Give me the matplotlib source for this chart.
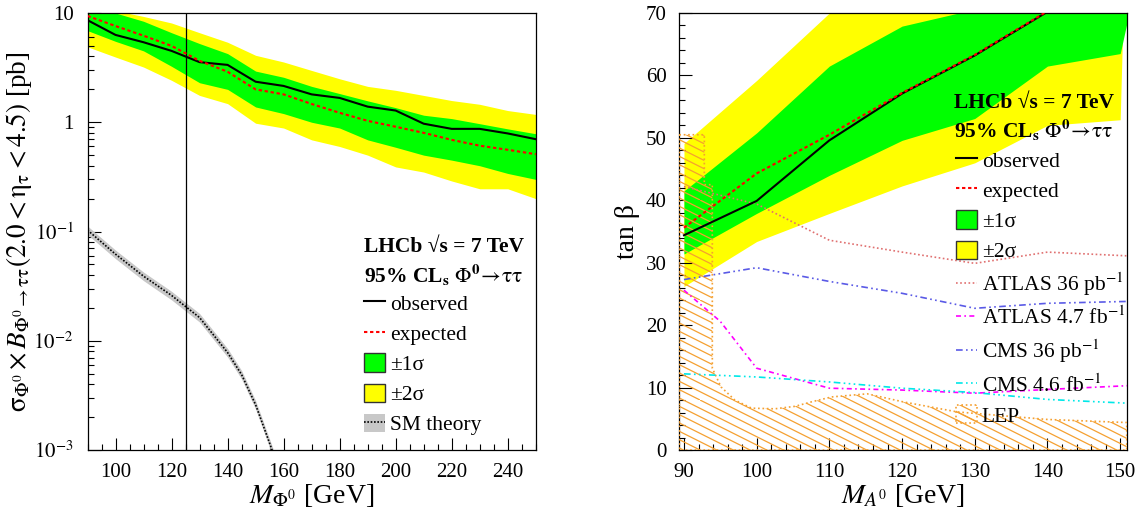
import numpy as np
import matplotlib
matplotlib.use("Agg")
import matplotlib.pyplot as plt
from matplotlib.patches import Patch
from matplotlib.lines import Line2D
from matplotlib.ticker import MultipleLocator, LogLocator, NullFormatter
import matplotlib.hatch as mhatch
from matplotlib.path import Path

# ---------------- data: left panel (cross-section limit) ----------------
mass_l = [90, 100, 110, 120, 130, 140, 150, 160, 170, 180, 190, 200, 210, 220, 230, 240, 250]
obs_l = [8.6, 6.3, 5.4, 4.5, 3.55, 3.35, 2.35, 2.15, 1.80, 1.67, 1.39, 1.28, 0.97, 0.87, 0.87, 0.79, 0.70]
exp_l = [9.4, 7.6, 6.2, 5.0, 3.65, 2.9, 2.0, 1.8, 1.47, 1.22, 1.03, 0.91, 0.80, 0.69, 0.61, 0.56, 0.51]
g_lo_l = [6.9, 5.5, 4.5, 3.25, 2.3, 2.0, 1.38, 1.2, 1.0, 0.885, 0.69, 0.59, 0.50, 0.45, 0.40, 0.34, 0.30]
g_hi_l = [11.5, 10.0, 8.4, 6.6, 5.25, 4.25, 2.94, 2.58, 2.13, 1.83, 1.57, 1.36, 1.16, 1.08, 0.97, 0.87, 0.785]
y_lo_l = [4.9, 3.95, 3.2, 2.42, 1.76, 1.48, 0.98, 0.885, 0.69, 0.60, 0.50, 0.39, 0.35, 0.29, 0.246, 0.246, 0.20]
y_hi_l = [13.0, 10.5, 9.3, 8.1, 6.6, 5.4, 4.1, 3.56, 2.98, 2.5, 2.13, 1.96, 1.76, 1.58, 1.46, 1.28, 1.18]

mass_sm = [90, 100, 110, 120, 130, 140, 145, 150, 153, 156, 158]
sm_xs = [0.103, 0.062, 0.039, 0.026, 0.0163, 0.0078, 0.0049, 0.0026, 0.0016, 0.00098, 0.0007]
sm_rel_unc = 0.09
higgs_mass = 125

ytick_vals_l = [1e-3, 1e-2, 1e-1, 1, 10]
ytick_labs_l = [r"$10^{-3}$", r"$10^{-2}$", r"$10^{-1}$", "1", "10"]

# ---------------- data: right panel (tan beta limit) ----------------
mass_r = [90, 100, 110, 120, 130, 140, 150, 151]
obs_r = [34.4, 39.9, 49.6, 57.1, 63.2, 70.2, 77.0, 78.0]
exp_r = [35.6, 44.3, 50.5, 57.2, 63.3, 70.3, 77.0, 78.0]
g_lo_r = [31.4, 37.9, 44.0, 49.6, 53.1, 61.5, 63.5, 68.8]
g_hi_r = [41.5, 50.8, 61.5, 67.9, 70.6, 78.0, 85.0, 86.0]
y_lo_r = [26.2, 33.4, 37.9, 42.3, 46.0, 52.0, 52.9, 95.0]
y_hi_r = [49.1, 59.2, 70.0, 78.0, 85.0, 90.0, 95.0, 96.0]

mass_ext = [90, 100, 110, 120, 130, 140, 151]
atlas36 = [42.2, 39.4, 33.6, 31.7, 29.9, 31.7, 31.1]
cms36 = [27.3, 29.2, 27.0, 25.1, 22.7, 23.5, 23.8]
cms46 = [12.2, 11.7, 10.9, 9.9, 9.2, 8.1, 7.5]
mass_atlas47 = [90, 95, 100, 110, 120, 130, 140, 151]
atlas47 = [25.6, 20.6, 13.1, 9.9, 9.6, 9.1, 9.7, 10.3]

lep_x = [89.36, 92.8, 92.8, 93.9, 93.9, 95.1, 97.0, 99.3, 102.5, 105.3, 107.5, 110.3, 115.2, 120.2, 127.6, 139.9, 150.9]
lep_y = [50.5, 50.5, 42.5, 42.5, 13.1, 10.1, 8.0, 6.7, 6.6, 7.0, 7.7, 8.5, 9.0, 7.7, 6.1, 4.9, 4.4]

# ---------------- style ----------------
plt.rcParams['font.family'] = ['Liberation Serif', 'DejaVu Serif']
plt.rcParams['mathtext.fontset'] = 'stix'
plt.rcParams['hatch.linewidth'] = 0.9

YELLOW = '#ffff00'
GREEN = '#00ff00'
ORANGE = '#f5a030'
EXP_LS = (0, (1.6, 1.3))


class ShallowSouthEast(mhatch.HatchPatternBase):
    """ROOT-like shallow back-slash hatch (slope -1/2)."""
    N = 12

    def __init__(self, hatch, density):
        on = hatch.count('\\') > 0
        self.ks = np.arange(1, int(1.5 * self.N)) if on else np.arange(0)
        self.num_vertices = 2 * len(self.ks)

    def set_vertices_and_codes(self, vertices, codes):
        c = self.ks / self.N
        s = 0.5
        x0 = np.clip((c - 1) / s, 0, 1)
        x1 = np.clip(c / s, 0, 1)
        vertices[0::2, 0] = x0
        vertices[0::2, 1] = c - s * x0
        vertices[1::2, 0] = x1
        vertices[1::2, 1] = c - s * x1
        codes[0::2] = Path.MOVETO
        codes[1::2] = Path.LINETO


try:
    _i = mhatch._hatch_types.index(mhatch.SouthEastHatch)
    mhatch._hatch_types[_i] = ShallowSouthEast
except Exception:
    pass

fig = plt.figure(figsize=(11.44, 5.14), dpi=100)
axL = fig.add_axes([0.0765, 0.1245, 0.3918, 0.8502])
axR = fig.add_axes([0.5938, 0.1245, 0.3911, 0.8502])


def style_axes(ax, ypad):
    for sp in ax.spines.values():
        sp.set_linewidth(0.9)
    ax.tick_params(which='both', direction='in', top=False, right=False,
                   width=0.8, labelsize=15)
    ax.tick_params(which='major', length=9)
    ax.tick_params(which='minor', length=4.5)
    ax.tick_params(axis='x', which='both', pad=9)
    ax.tick_params(axis='y', which='both', pad=ypad)


# ---------------- left panel ----------------
axL.fill_between(mass_l, y_lo_l, y_hi_l, color=YELLOW, lw=0, zorder=1)
axL.fill_between(mass_l, g_lo_l, g_hi_l, color=GREEN, lw=0, zorder=2)
sm_arr = np.array(sm_xs)
axL.fill_between(mass_sm, sm_arr * (1 - sm_rel_unc), sm_arr * (1 + sm_rel_unc),
                 color='#c8c8c8', lw=0, zorder=2)
axL.plot(mass_sm, sm_xs, color='k', ls=(0, (1, 1)), lw=1.2, zorder=3)
axL.axvline(higgs_mass, color='k', lw=0.9, zorder=3)
axL.plot(mass_l, obs_l, color='k', lw=1.5, zorder=4)
axL.plot(mass_l, exp_l, color='red', ls=EXP_LS, lw=1.5, zorder=5)

axL.set_yscale('log')
axL.set_xlim(90, 250)
axL.set_ylim(1e-3, 10)
axL.xaxis.set_major_locator(MultipleLocator(20))
axL.xaxis.set_minor_locator(MultipleLocator(5))
axL.set_yticks(ytick_vals_l, ytick_labs_l)
axL.yaxis.set_minor_locator(LogLocator(base=10, subs=np.arange(2, 10)))
axL.yaxis.set_minor_formatter(NullFormatter())
style_axes(axL, 10)

axL.set_xlabel(r"$M_{\Phi^0}$ [GeV]", fontsize=20, va='center')
axL.xaxis.set_label_coords(0.5, -0.103)
axL.set_ylabel(r"$\mathrm{\sigma}_{\Phi^0}\times B_{\Phi^0\rightarrow\mathrm{\tau\tau}}"
               r"(2.0 < \mathrm{\eta}_{\mathrm{\tau}} < 4.5)$ [pb]", fontsize=19.5, va='center')
axL.yaxis.set_label_coords(-0.152, 0.5)

axL.text(0.616, 0.4645, "LHCb √s = 7 TeV", transform=axL.transAxes,
         fontsize=15.5, fontweight='bold', va='center', ha='left')
axL.text(0.616, 0.4005, r"95% CL$_{\mathbf{s}}$ $\Phi^{\mathbf{0}}\!\rightarrow\!\mathrm{\tau\tau}$",
         transform=axL.transAxes, fontsize=15.5, fontweight='bold', va='center', ha='left')

hL = [Line2D([], [], color='k', lw=1.5),
      Line2D([], [], color='red', ls=EXP_LS, lw=1.5),
      Patch(facecolor=GREEN, edgecolor='#333333', lw=1),
      Patch(facecolor=YELLOW, edgecolor='#333333', lw=1),
      (Patch(facecolor='#c8c8c8', edgecolor='none'),
       Line2D([], [], color='k', ls=(0, (1, 1)), lw=1.2))]
lL = ['observed', 'expected', '±1σ', '±2σ', 'SM theory']
axL.legend(hL, lL, loc='upper left', bbox_to_anchor=(0.616, 0.359), frameon=False,
           fontsize=15.5, handlelength=0.98, handleheight=0.93, handletextpad=0.23,
           labelspacing=0.4, borderpad=0, borderaxespad=0)

# ---------------- right panel ----------------
axR.fill_between(mass_r, y_lo_r, y_hi_r, color=YELLOW, lw=0, zorder=1)
axR.fill_between(mass_r, g_lo_r, g_hi_r, color=GREEN, lw=0, zorder=2)
axR.fill(np.r_[lep_x, lep_x[-1], lep_x[0]], np.r_[lep_y, 0, 0], facecolor='none',
         edgecolor=ORANGE, hatch='\\', ls=':', lw=1.2, zorder=3)
st_a36 = dict(color='#e07070', ls=(0, (1, 1.5)), lw=1.2)
st_a47 = dict(color='#ff00ff', ls=(0, (3, 2, 1, 2)), lw=1.2)
st_c36 = dict(color='#5a5ae6', ls=(0, (4, 2, 1, 2, 1, 2)), lw=1.2)
st_c46 = dict(color='#00e8e8', ls=(0, (4, 2, 1, 2, 1, 2, 1, 2)), lw=1.2)
axR.plot(mass_ext, atlas36, zorder=4, **st_a36)
axR.plot(mass_atlas47, atlas47, zorder=4, **st_a47)
axR.plot(mass_ext, cms36, zorder=4, **st_c36)
axR.plot(mass_ext, cms46, zorder=4, **st_c46)
axR.plot(mass_r, obs_r, color='k', lw=1.5, zorder=5)
axR.plot(mass_r, exp_r, color='red', ls=EXP_LS, lw=1.5, zorder=6)

axR.set_xlim(89.36, 150.9)
axR.set_ylim(0, 70)
axR.xaxis.set_major_locator(MultipleLocator(10))
axR.xaxis.set_minor_locator(MultipleLocator(2))
axR.yaxis.set_major_locator(MultipleLocator(10))
axR.yaxis.set_minor_locator(MultipleLocator(2))
style_axes(axR, 9)

axR.set_xlabel(r"$M_{A^0}$ [GeV]", fontsize=20, va='center')
axR.xaxis.set_label_coords(0.5, -0.103)
axR.set_ylabel("tan β", fontsize=20, va='center')
axR.yaxis.set_label_coords(-0.1147, 0.5)

axR.text(0.6144, 0.794, "LHCb √s = 7 TeV", transform=axR.transAxes,
         fontsize=15.5, fontweight='bold', va='center', ha='left', zorder=10)
axR.text(0.6144, 0.7323, r"95% CL$_{\mathbf{s}}$ $\Phi^{\mathbf{0}}\!\rightarrow\!\mathrm{\tau\tau}$",
         transform=axR.transAxes, fontsize=15.5, fontweight='bold', va='center', ha='left', zorder=10)

hR = [Line2D([], [], color='k', lw=1.5),
      Line2D([], [], color='red', ls=EXP_LS, lw=1.5),
      Patch(facecolor=GREEN, edgecolor='#333333', lw=1),
      Patch(facecolor=YELLOW, edgecolor='#333333', lw=1),
      Line2D([], [], **st_a36),
      Line2D([], [], **st_a47),
      Line2D([], [], **st_c36),
      Line2D([], [], **st_c46),
      Patch(facecolor='none', edgecolor=ORANGE, hatch='\\', ls=':', lw=1.2)]
lR = ['observed', 'expected', '±1σ', '±2σ', r'ATLAS 36 pb$^{-1}$', r'ATLAS 4.7 fb$^{-1}$',
      r'CMS 36 pb$^{-1}$', r'CMS 4.6 fb$^{-1}$', 'LEP']
legR = axR.legend(hR, lR, loc='upper left', bbox_to_anchor=(0.618, 0.6865), frameon=False,
                  fontsize=15.5, handlelength=0.98, handleheight=0.93, handletextpad=0.23,
                  labelspacing=0.4, borderpad=0, borderaxespad=0)
legR.set_zorder(10)

fig.savefig("out.png", dpi=100)
